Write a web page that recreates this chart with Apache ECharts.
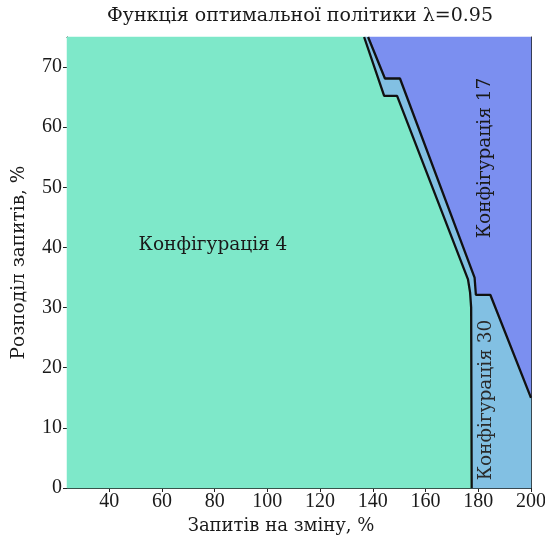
<!DOCTYPE html>
<html>
<head>
<meta charset="utf-8">
<script src="https://cdn.jsdelivr.net/npm/echarts@6/dist/echarts.min.js"></script>
<style>
html,body{margin:0;padding:0;background:#fff;}
#chart{width:545px;height:544px;}
</style>
</head>
<body>
<div id="chart"></div>
<script>
// ---- data ----
const titleText = 'Функція оптимальної політики λ=0.95';
const xAxisName = 'Запитів на зміну, %';
const yAxisName = 'Розподіл запитів, %';
const xTicks = [40, 60, 80, 100, 120, 140, 160, 180, 200];
const yTicks = [0, 10, 20, 30, 40, 50, 60, 70];
const xRange = [24, 200];
const yRange = [0, 75];
// boundary between Конфігурація 4 and Конфігурація 30 (top -> bottom)
const leftBoundaryX = [136.7, 144.3, 149.2, 176.1, 176.9, 177.3, 177.5];
const leftBoundaryY = [75, 65.2, 65.2, 34.7, 32.5, 30, 0];
// boundary between Конфігурація 30 and Конфігурація 17 (top -> bottom)
const rightBoundaryX = [138.2, 144.6, 150.3, 178.6, 179.1, 184.6, 200];
const rightBoundaryY = [75, 68.1, 68.1, 35.0, 32.1, 32.1, 15];
const regionNames = ['Конфігурація 4', 'Конфігурація 30', 'Конфігурація 17'];
const regionColors = ['#7ee8c9', '#82c0e3', '#7b8ff0'];

// ---- build ----
const leftPts = leftBoundaryX.map((x, i) => [x, leftBoundaryY[i]]);
const rightPts = rightBoundaryX.map((x, i) => [x, rightBoundaryY[i]]);
const polys = [
  [[xRange[0], yRange[0]], [xRange[0], yRange[1]]].concat(leftPts),
  leftPts.concat([[xRange[1], yRange[0]]]).concat(rightPts.slice().reverse()),
  rightPts.concat([[xRange[1], yRange[1]]])
];

const chart = echarts.init(document.getElementById('chart'), null, {renderer: 'canvas'});
const numFont = '"Liberation Serif", "DejaVu Serif", serif';
const wordFont = '"DejaVu Serif", "Liberation Serif", serif';
const txt = '#1a1a1a';

chart.setOption({
  animation: false,
  backgroundColor: '#fff',
  textStyle: {fontFamily: numFont},
  grid: {left: 67, right: 14, top: 37, bottom: 56, outerBoundsMode: 'none', containLabel: false},
  xAxis: [{
    type: 'value', min: xRange[0], max: xRange[1],
    name: xAxisName, nameLocation: 'middle', nameGap: 21,
    nameTextStyle: {fontFamily: wordFont, fontSize: 18, color: txt, padding: [0, 36, 0, 0]},
    axisLine: {show: true, lineStyle: {color: '#222', width: 1}},
    axisTick: {show: true, length: 4, customValues: xTicks, lineStyle: {color: '#222'}},
    axisLabel: {customValues: xTicks, fontFamily: numFont, fontSize: 20, color: txt, margin: 4},
    splitLine: {show: false}
  }, {
    type: 'value', position: 'top', min: xRange[0], max: xRange[1],
    axisLine: {show: true, onZero: false, lineStyle: {color: '#222', width: 1}},
    axisTick: {show: false}, axisLabel: {show: false}, splitLine: {show: false}
  }],
  yAxis: [{
    type: 'value', min: yRange[0], max: yRange[1],
    name: yAxisName, nameLocation: 'middle', nameGap: 38,
    nameTextStyle: {fontFamily: wordFont, fontSize: 18.5, color: txt},
    axisLine: {show: true, lineStyle: {color: '#222', width: 1}},
    axisTick: {show: true, length: 4, customValues: yTicks, lineStyle: {color: '#222'}},
    axisLabel: {customValues: yTicks, fontFamily: numFont, fontSize: 20, color: txt, margin: 5},
    splitLine: {show: false}
  }, {
    type: 'value', position: 'right', min: yRange[0], max: yRange[1],
    axisLine: {show: true, onZero: false, lineStyle: {color: '#222', width: 1}},
    axisTick: {show: false}, axisLabel: {show: false}, splitLine: {show: false}
  }],
  graphic: [
    {type: 'text', z: 100, x: 300, y: 16, style: {text: titleText, font: '19px ' + wordFont, fill: txt, align: 'center', verticalAlign: 'middle'}},
    {type: 'text', z: 100, x: 213, y: 245, style: {text: regionNames[0], font: '18.5px ' + wordFont, fill: txt, align: 'center', verticalAlign: 'middle'}},
    {type: 'text', z: 100, x: 485, y: 158, rotation: Math.PI / 2, style: {text: regionNames[2], font: '18.5px ' + wordFont, fill: txt, align: 'center', verticalAlign: 'middle'}},
    {type: 'text', z: 100, x: 486, y: 400, rotation: Math.PI / 2, style: {text: regionNames[1], font: '18.5px ' + wordFont, fill: '#2a2a2a', align: 'center', verticalAlign: 'middle'}}
  ],
  series: [{
    type: 'custom',
    coordinateSystem: 'cartesian2d',
    data: polys.map((p, i) => [i]),
    renderItem: function (params, api) {
      const idx = api.value(0);
      const pts = polys[idx].map(p => api.coord(p));
      return {type: 'polygon', shape: {points: pts}, style: {fill: regionColors[idx], stroke: regionColors[idx], lineWidth: 0.5}};
    },
    z: 1
  }, {
    type: 'line', data: leftPts, showSymbol: false, symbol: 'none',
    lineStyle: {color: '#111', width: 2.3}, z: 3
  }, {
    type: 'line', data: rightPts, showSymbol: false, symbol: 'none',
    lineStyle: {color: '#111', width: 2.3}, z: 3
  }]
});
</script>
</body>
</html>
